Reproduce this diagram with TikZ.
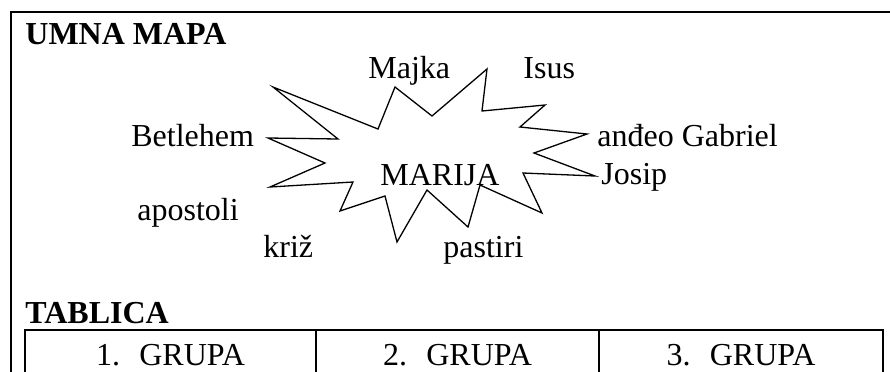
\documentclass[tikz,border=0pt]{standalone}
\usepackage{fontspec}
\setmainfont{Liberation Serif}
\begin{document}
\begin{tikzpicture}[x=0.5pt,y=-0.5pt,
  lbl/.style={anchor=base west,inner sep=0pt,font=\fontsize{16}{19}\selectfont},
  ttl/.style={lbl,font=\fontsize{16}{19}\selectfont\bfseries},
  grp/.style={anchor=base,inner sep=0pt,font=\fontsize{16}{19}\selectfont},
  frame/.style={line width=1pt},
  starline/.style={line width=0.65pt,line join=miter}]
\useasboundingbox (0,0) rectangle (890,371);
\clip (0,0) rectangle (890,371);
% outer frame
\draw[frame] (11,380) -- (11,12) -- (900,12);
% titles
\node[ttl] (umna) at (25,44) {UMNA MAPA};
\node[ttl] (tablica) at (25,323) {TABLICA};
% star
\draw[starline] (273,87) -- (378,129) -- (395,87) -- (432,116) -- (487,69) -- (482,111)
  -- (545,105) -- (520,127) -- (587,134) -- (534,153) -- (595,176) -- (523,173)
  -- (542,213) -- (480,185) -- (468,227) -- (427,190) -- (397,242) -- (385,196)
  -- (340,211) -- (353,182) -- (270,187) -- (325,163) -- (268,138) -- (338,139) -- cycle;
% labels
\node[lbl] (marija) at (380,185) {MARIJA};
\node[lbl] (majka) at (368,78) {Majka};
\node[lbl] (isus) at (523,78) {Isus};
\node[lbl] (betlehem) at (131,146) {Betlehem};
\node[lbl] (andeo) at (597,146) {anđeo Gabriel};
\node[lbl] (josip) at (601,184) {Josip};
\node[lbl] (apostoli) at (137,220) {apostoli};
\node[lbl] (kriz) at (263,257) {križ};
\node[lbl] (pastiri) at (443,257) {pastiri};
% table
\draw[frame] (25,380) -- (25,330) -- (883,330) -- (883,380);
\draw[frame] (316,330) -- (316,380);
\draw[frame] (599,330) -- (599,380);
\node[grp] (g1) at (170.5,365) {1.\hspace{0.6em}GRUPA};
\node[grp] (g2) at (457.5,365) {2.\hspace{0.6em}GRUPA};
\node[grp] (g3) at (741,365) {3.\hspace{0.6em}GRUPA};
\end{tikzpicture}
\end{document}
